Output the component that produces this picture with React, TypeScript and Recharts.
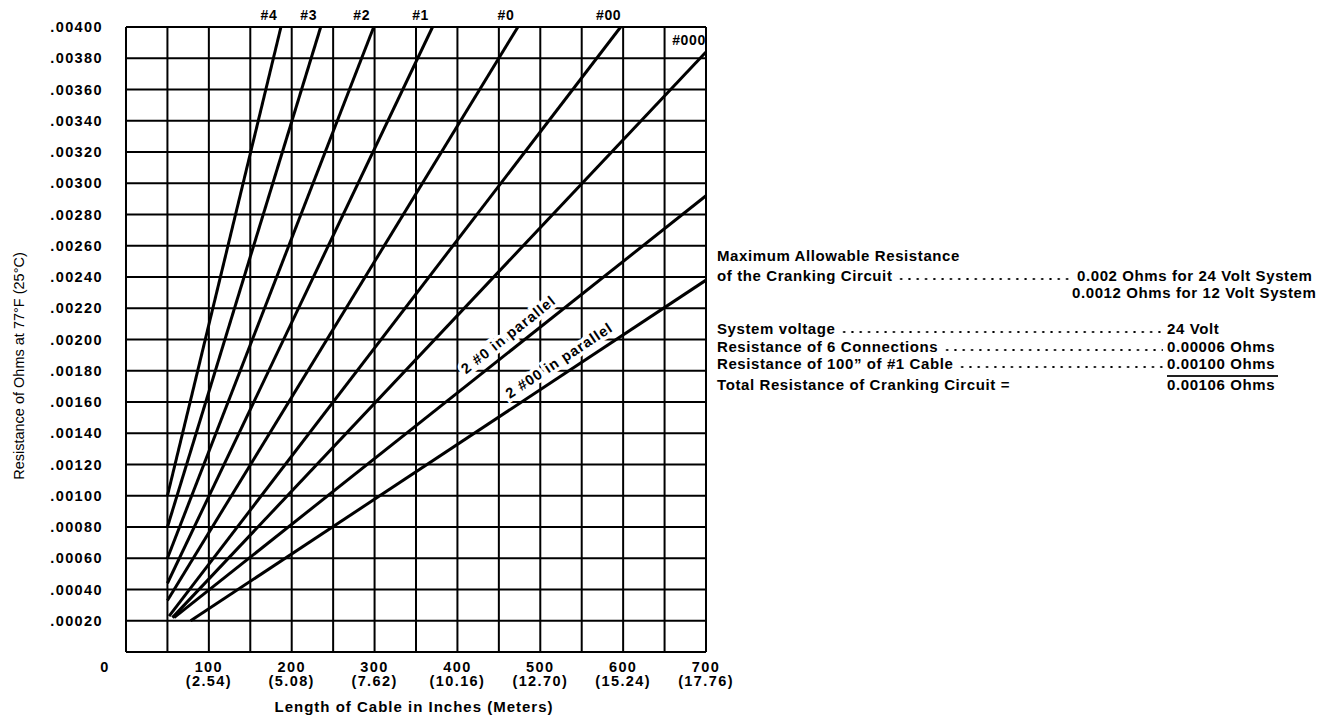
import React from 'react';
import { LineChart, Line, XAxis, YAxis, CartesianGrid, ReferenceDot } from 'recharts';

// cable sizes, each drawn as a straight run from its shortest to its longest length
const cableSizes = ['#4', '#3', '#2', '#1', '#0', '#00', '#000', '2 #0 in parallel', '2 #00 in parallel'];
const startLength = [50, 50, 50, 50, 50, 52, 56, 58, 78];
const startOhms = [0.001, 0.0008, 0.0006, 0.00044, 0.00033, 0.00023, 0.00022, 0.00022, 0.0002];
const endLength = [187, 235, 299, 370, 473, 597, 700, 700, 700];
const endOhms = [0.004, 0.004, 0.004, 0.004, 0.004, 0.004, 0.00384, 0.00292, 0.00238];

// where the rotated "in parallel" captions sit along their lines (inches)
const captionLength = [472, 532];

const lengthTicks = [0, 50, 100, 150, 200, 250, 300, 350, 400, 450, 500, 550, 600, 650, 700];
const inchLabels = [100, 200, 300, 400, 500, 600, 700];
const meterLabels = ['(2.54)', '(5.08)', '(7.62)', '(10.16)', '(12.70)', '(15.24)', '(17.76)'];
const ohmTicks = [
  0, 0.0002, 0.0004, 0.0006, 0.0008, 0.001, 0.0012, 0.0014, 0.0016, 0.0018, 0.002,
  0.0022, 0.0024, 0.0026, 0.0028, 0.003, 0.0032, 0.0034, 0.0036, 0.0038, 0.004,
];

const FONT = '"Liberation Sans", Arial, Helvetica, sans-serif';
const CHART_W = 740;
const CHART_H = 719;
const PLOT = { left: 126, right: 706, top: 27, bottom: 652 };

const tickText = {
  fontFamily: FONT,
  fontWeight: 700,
  fontSize: 14.5,
  letterSpacing: 1.4,
  fill: '#000',
};

const XTick = ({ x, y, payload }: any) => {
  const v = payload.value;
  if (v === 0) {
    return (
      <text x={x - 21} y={y + 20} textAnchor="middle" style={tickText}>
        0
      </text>
    );
  }
  const i = inchLabels.indexOf(v);
  if (i < 0) return <g />;
  return (
    <g>
      <text x={x} y={y + 20} textAnchor="middle" style={tickText}>
        {v}
      </text>
      <text x={x} y={y + 34} textAnchor="middle" style={tickText}>
        {meterLabels[i]}
      </text>
    </g>
  );
};

const YTick = ({ x, y, payload }: any) => {
  const v = payload.value;
  if (v === 0) return <g />;
  return (
    <text x={x - 23} y={y + 5} textAnchor="end" style={tickText}>
      {v.toFixed(5).slice(1)}
    </text>
  );
};

const series = cableSizes.map((name, i) => ({
  name,
  data: [
    { len: startLength[i], ohms: startOhms[i] },
    { len: endLength[i], ohms: endOhms[i] },
  ],
}));

// label at the top end of each single-cable line
const endLabel = (name: string, atRightEdge: boolean) => (p: any) => {
  const vb = p.viewBox || {};
  const cx = (vb.x || 0) + (vb.width || 0) / 2;
  const cy = (vb.y || 0) + (vb.height || 0) / 2;
  const tx = atRightEdge ? cx - 17 : cx - 12;
  const ty = atRightEdge ? cy - 7 : PLOT.top - 7;
  return (
    <text x={tx} y={ty} textAnchor="middle" style={{ ...tickText, fontSize: 14, letterSpacing: 0.6 }}>
      {name}
    </text>
  );
};

const captionLabel = (name: string, angle: number) => (p: any) => {
  const vb = p.viewBox || {};
  const cx = (vb.x || 0) + (vb.width || 0) / 2;
  const cy = (vb.y || 0) + (vb.height || 0) / 2;
  return (
    <g transform={`translate(${cx},${cy}) rotate(${angle})`}>
      <text
        x={0}
        y={-9}
        textAnchor="middle"
        stroke="#fff"
        strokeWidth={7}
        paintOrder="stroke"
        style={{ ...tickText, fontSize: 14.5, letterSpacing: 1 }}
      >
        {name}
      </text>
    </g>
  );
};

const pxPerInch = (PLOT.right - PLOT.left) / 700;
const pxPerOhm = (PLOT.bottom - PLOT.top) / 0.004;

const rowText: React.CSSProperties = {
  position: 'absolute',
  fontFamily: FONT,
  fontWeight: 700,
  fontSize: 15,
  letterSpacing: 0.6,
  lineHeight: '18px',
  whiteSpace: 'nowrap',
  color: '#000',
};

// dotted leader drawn as a background so it is not text
const Dots = () => (
  <span
    style={{
      flex: 1,
      marginLeft: 5,
      marginBottom: 4,
      backgroundImage: 'radial-gradient(circle, #000 0.9px, transparent 1.3px)',
      backgroundSize: '8.3px 4px',
      backgroundRepeat: 'repeat-x',
      backgroundPosition: 'left bottom',
    }}
  />
);

const LeaderRow = ({ top, width, label }: { top: number; width: number; label: string }) => (
  <div style={{ ...rowText, left: 717, top, width, display: 'flex' }}>
    <span>{label}</span>
    <Dots />
  </div>
);

export default function App() {
  return (
    <div
      style={{
        position: 'absolute',
        left: 0,
        top: 0,
        width: 1321,
        height: 719,
        overflow: 'hidden',
        background: '#fff',
      }}
    >
      <LineChart
        width={CHART_W}
        height={CHART_H}
        margin={{ top: PLOT.top, right: CHART_W - PLOT.right, bottom: 0, left: 0 }}
      >
        <CartesianGrid stroke="#000" strokeWidth={2} />
        <XAxis
          dataKey="len"
          type="number"
          domain={[0, 700]}
          ticks={lengthTicks}
          interval={0}
          height={CHART_H - PLOT.bottom}
          axisLine={false}
          tickLine={false}
          tickSize={0}
          tickMargin={0}
          tick={<XTick />}
          allowDuplicatedCategory={false}
        />
        <YAxis
          dataKey="ohms"
          type="number"
          domain={[0, 0.004]}
          ticks={ohmTicks}
          interval={0}
          width={PLOT.left}
          axisLine={false}
          tickLine={false}
          tickSize={0}
          tickMargin={0}
          tick={<YTick />}
        />
        {series.map((s) => (
          <Line
            key={s.name}
            data={s.data}
            dataKey="ohms"
            type="linear"
            stroke="#000"
            strokeWidth={3}
            dot={false}
            activeDot={false}
            isAnimationActive={false}
          />
        ))}
        {cableSizes.slice(0, 7).map((name, i) => (
          <ReferenceDot
            key={`end-${name}`}
            x={endLength[i]}
            y={endOhms[i]}
            r={1}
            fill="none"
            stroke="none"
            ifOverflow="visible"
            label={endLabel(name, endLength[i] >= 700)}
          />
        ))}
        {cableSizes.slice(7).map((name, k) => {
          const i = k + 7;
          const slope = (endOhms[i] - startOhms[i]) / (endLength[i] - startLength[i]);
          const anchorOhms = startOhms[i] + (captionLength[k] - startLength[i]) * slope;
          const angle = (-Math.atan((slope * pxPerOhm) / pxPerInch) * 180) / Math.PI;
          return (
            <ReferenceDot
              key={`cap-${name}`}
              x={captionLength[k]}
              y={anchorOhms}
              r={1}
              fill="none"
              stroke="none"
              ifOverflow="visible"
              label={captionLabel(name, angle)}
            />
          );
        })}
      </LineChart>

      {/* axis titles */}
      <div
        style={{
          position: 'absolute',
          left: 19 - 150,
          top: 366 - 9,
          width: 300,
          textAlign: 'center',
          transform: 'rotate(-90deg)',
          fontFamily: FONT,
          fontSize: 14.5,
          lineHeight: '18px',
          whiteSpace: 'nowrap',
        }}
      >
        Resistance of Ohms at 77°F (25°C)
      </div>
      <div
        style={{
          ...rowText,
          left: 414 - 200,
          top: 707 - 9,
          width: 400,
          textAlign: 'center',
          letterSpacing: 1,
        }}
      >
        Length of Cable in Inches (Meters)
      </div>

      {/* cranking circuit notes */}
      <div style={{ ...rowText, left: 717, top: 256 - 9 }}>Maximum Allowable Resistance</div>
      <LeaderRow top={276 - 9} width={356} label="of the Cranking Circuit" />
      <div style={{ ...rowText, left: 1077, top: 276 - 9 }}>0.002 Ohms for 24 Volt System</div>
      <div style={{ ...rowText, left: 1072, top: 293 - 9 }}>0.0012 Ohms for 12 Volt System</div>

      <LeaderRow top={329 - 9} width={446} label="System voltage" />
      <div style={{ ...rowText, left: 1167, top: 329 - 9 }}>24 Volt</div>
      <LeaderRow top={347 - 9} width={446} label="Resistance of 6 Connections" />
      <div style={{ ...rowText, left: 1167, top: 347 - 9 }}>0.00006 Ohms</div>
      <LeaderRow top={364 - 9} width={446} label="Resistance of 100” of #1 Cable" />
      <div style={{ ...rowText, left: 1167, top: 364 - 9 }}>0.00100 Ohms</div>
      <div style={{ position: 'absolute', left: 1167, top: 375, width: 111, height: 1.5, background: '#222' }} />
      <div style={{ ...rowText, left: 717, top: 385 - 9 }}>Total Resistance of Cranking Circuit =</div>
      <div style={{ ...rowText, left: 1167, top: 385 - 9 }}>0.00106 Ohms</div>
    </div>
  );
}
